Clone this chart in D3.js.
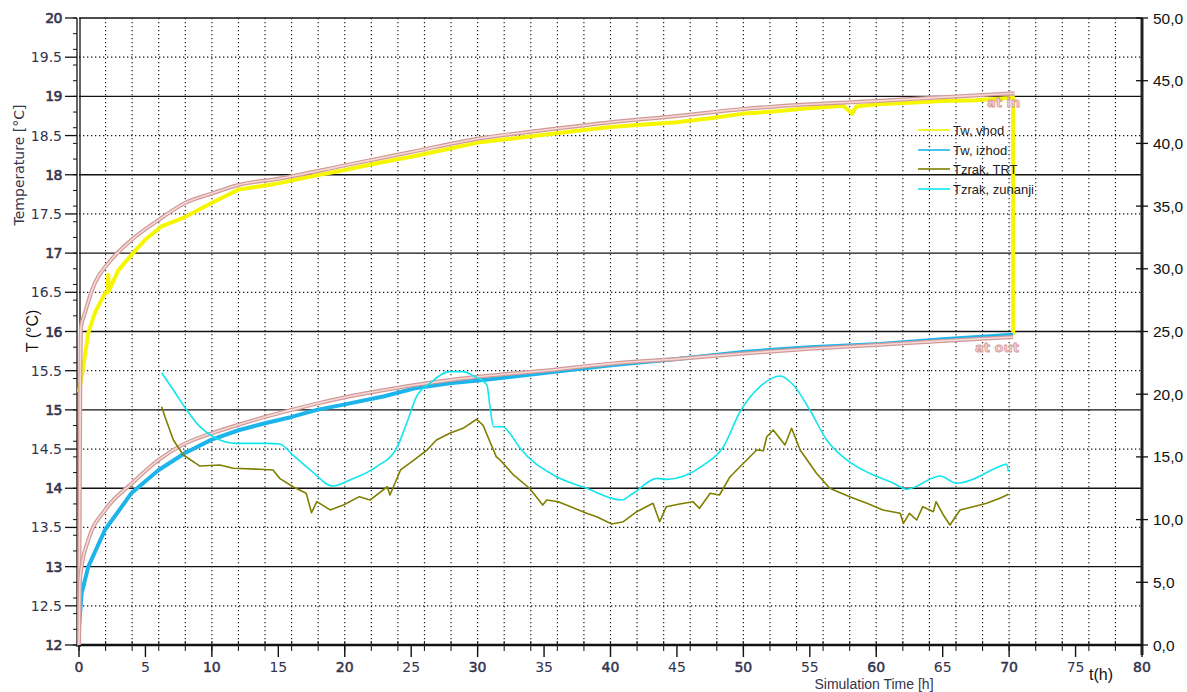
<!DOCTYPE html>
<html>
<head>
<meta charset="utf-8">
<script src="https://cdn.jsdelivr.net/npm/d3@7"></script>
<style>
  html,body{margin:0;padding:0;background:#fff;overflow:hidden;}
  svg{display:block;}
</style>
</head>
<body>
<svg id="chart" width="1187" height="692"></svg>
<script>
// ---------------- DATA ----------------
const xTicksMajor = [0,5,10,15,20,25,30,35,40,45,50,55,60,65,70,75,80];
const leftTickLabels = ["12","12.5","13","13.5","14","14.5","15","15.5","16","16.5","17","17.5","18","18.5","19","19.5","20"];
const rightTickLabels = ["0,0","5,0","10,0","15,0","20,0","25,0","30,0","35,0","40,0","45,0","50,0"];
const legendLabels = ["Tw, vhod","Tw, izhod","Tzrak, TRT","Tzrak, zunanji"];

// Tw, vhod (measured inlet water, left axis) [h, °C]
const twVhod = [[0,15.23],[0.2,15.42],[0.7,15.98],[1.2,16.24],[1.96,16.49],[2.15,16.5],[2.2,16.72],[2.25,16.52],
 [2.96,16.78],[3.96,16.98],[4.97,17.17],[6.2,17.34],[7.98,17.46],[9.98,17.64],[12,17.81],[14.25,17.87],[15,17.89],
 [17.5,17.98],[20,18.06],[22.5,18.15],[25,18.23],[27.5,18.32],[30,18.41],[32.5,18.46],[35,18.51],[37.5,18.56],
 [40,18.61],[42.5,18.64],[45,18.67],[47.5,18.72],[50,18.78],[52.5,18.81],[55,18.85],[57.5,18.88],[58.2,18.78],
 [58.5,18.87],[60,18.9],[62.5,18.92],[65,18.94],[67.5,18.95],[70,18.98],[70.3,18.99],[70.31,15.96]];
// Tw, izhod (measured outlet water, left axis)
const twIzhod = [[0,12.23],[0.2,12.66],[0.7,13.0],[1.96,13.47],[3.96,13.94],[5.97,14.23],[7.98,14.45],[9.98,14.62],
 [12,14.74],[14,14.83],[16,14.91],[17.9,15.0],[20,15.07],[22.9,15.17],[25.4,15.28],[27.9,15.34],[30.4,15.38],
 [32.4,15.42],[35,15.47],[40,15.57],[45,15.65],[50,15.74],[55,15.8],[60.3,15.84],[65,15.9],[70.3,15.96]];
// simulated "at in" (left axis)
const simIn = [[0,12.0],[0.1,15.4],[0.15,16.05],[0.45,16.24],[1.2,16.62],[2.2,16.87],[3.96,17.17],[5.97,17.42],
 [7.98,17.64],[9.98,17.76],[12,17.87],[15,17.95],[20,18.12],[25,18.29],[30,18.46],[35,18.57],[40,18.67],
 [45,18.75],[50,18.84],[55,18.9],[60,18.94],[65,18.99],[70.4,19.04]];
// simulated "at out" (left axis)
const simOut = [[0,12.0],[0.08,12.83],[0.2,13.0],[0.7,13.34],[1.96,13.72],[3.96,14.06],[5.97,14.36],[7.98,14.57],
 [9.98,14.7],[12,14.81],[14,14.91],[16,15.0],[17.9,15.08],[20.9,15.19],[22.9,15.25],[25.4,15.32],[27.9,15.38],
 [32.4,15.46],[35,15.5],[40,15.59],[45,15.65],[50,15.72],[55,15.78],[60.3,15.83],[65,15.88],[70.3,15.93]];
// Tzrak, TRT (right axis)
const tzrakTRT = [[6.22,19.0],[6.47,18.2],[7.1,16.35],[7.85,15.15],[9.1,14.27],[10.6,14.35],[11.6,14.09],[13.6,14.01],
 [14.6,13.96],[15.1,13.29],[16.1,12.62],[17.1,12.1],[17.5,10.55],[17.9,11.43],[18.9,10.77],[19.9,11.16],[21.1,11.83],
 [21.9,11.56],[23.2,12.62],[23.4,11.96],[24.2,13.96],[25.2,14.75],[26.2,15.55],[26.9,16.35],[27.9,16.88],[28.9,17.28],
 [29.93,18.0],[30.4,17.54],[31.4,15.02],[31.7,14.75],[32.7,13.56],[33.9,12.5],[34.9,11.16],[35.2,11.56],[36.07,11.43],
 [37,11.03],[38.2,10.5],[38.96,10.23],[40.1,9.65],[40.97,9.83],[41.97,10.63],[43.2,11.3],[43.7,9.83],[44.2,11.03],
 [45.2,11.24],[46.2,11.43],[46.7,10.9],[47.5,12.1],[48.2,11.96],[49,13.42],[50.25,14.75],[51,15.55],[51.5,15.49],
 [51.76,16.61],[52.25,17.14],[53.13,15.95],[53.63,17.28],[54.27,15.55],[55.5,13.69],[56.5,12.5],[58,11.83],[59.3,11.3],
 [60.5,10.77],[61.8,10.5],[62.04,9.7],[62.5,10.5],[63.04,9.97],[63.5,11.03],[64.3,10.63],[64.5,11.43],[65.05,10.37],
 [65.55,9.57],[66.3,10.77],[67.3,11.03],[68.3,11.3],[69.3,11.7],[69.95,12.02]];
// Tzrak, zunanji (right axis)
const tzrakZun = [[6.22,21.71],[7.1,20.33],[8.1,18.74],[9.1,17.41],[10.1,16.61],[11.87,16.08],[14.1,16.08],[15.1,16.03],
 [16.1,15.15],[17.4,13.96],[19.1,12.68],[20.4,13.16],[22.4,14.22],[23.9,15.69],[24.66,17.68],[25.4,19.8],[26.4,20.87],
 [27.9,21.8],[28.9,21.8],[29.7,21.45],[30.7,20.73],[30.93,19.0],[31.2,17.41],[31.9,17.41],[32.4,16.9],[33.2,15.69],
 [35.7,13.56],[38.2,12.5],[40.84,11.56],[41.7,12.1],[43.5,13.29],[44.2,13.21],[47,14.35],[48.5,15.81],[49.75,18.6],
 [51.25,20.6],[52.76,21.45],[53.76,20.73],[55,18.74],[56.27,16.35],[57.8,14.75],[59.5,13.69],[61.3,12.9],[62.3,12.42],
 [64.8,13.48],[66.05,12.9],[69.56,14.35],[69.8,14.43],[69.95,13.82]];

// ---------------- LAYOUT ----------------
const svg = d3.select("#chart");
const L = 79, R = 1142, T = 18, B = 645;
const x = d3.scaleLinear().domain([0,80]).range([L,R]);
const yL = d3.scaleLinear().domain([12,20]).range([B,T]);
const yR = d3.scaleLinear().domain([0,50]).range([B,T]);
const labelColor = "#34344e";

// grid
const g = svg.append("g");
const vGrid = d3.range(2,80,2);
g.selectAll(".vg").data(vGrid).join("line")
  .attr("x1",d=>x(d)).attr("x2",d=>x(d)).attr("y1",T).attr("y2",B)
  .attr("stroke","#222").attr("stroke-width",1.2).attr("stroke-dasharray","1.3,2.7");
const hVals = d3.range(12.5,20,0.5);
g.selectAll(".hg").data(hVals).join("line")
  .attr("x1",L).attr("x2",R).attr("y1",d=>yL(d)).attr("y2",d=>yL(d))
  .attr("stroke","#111")
  .attr("stroke-width",d=>Number.isInteger(d)?1.3:1.2)
  .attr("stroke-dasharray",d=>Number.isInteger(d)?null:"1.3,2.7");
g.append("line").attr("x1",L).attr("x2",R).attr("y1",T).attr("y2",T).attr("stroke","#111").attr("stroke-width",1.5);

// ---------------- LEFT AXIS ----------------
const la = svg.append("g");
la.append("line").attr("x1",77).attr("x2",77).attr("y1",T).attr("y2",B+2).attr("stroke","#111").attr("stroke-width",1.3);
la.append("line").attr("x1",80).attr("x2",80).attr("y1",T).attr("y2",B+2).attr("stroke","#111").attr("stroke-width",1.3);
la.selectAll(".mt").data(d3.range(12,20.01,0.2)).join("line")
  .attr("x1",73).attr("x2",77).attr("y1",d=>yL(d)).attr("y2",d=>yL(d)).attr("stroke","#111").attr("stroke-width",1);
la.selectAll(".Mt").data(leftTickLabels).join("line")
  .attr("x1",65).attr("x2",77).attr("y1",d=>yL(+d)).attr("y2",d=>yL(+d)).attr("stroke","#111").attr("stroke-width",1.3);
la.selectAll(".lt").data(leftTickLabels).join("text")
  .attr("x",62).attr("y",d=>yL(+d)).attr("dy","0.36em").attr("text-anchor","end")
  .attr("font-family","DejaVu Sans").attr("font-size",14).attr("fill",labelColor)
  .attr("stroke",d=>d.includes(".")?"none":labelColor).attr("stroke-width",0.6)
  .attr("letter-spacing",d=>d.includes(".")?null:"-0.5").text(d=>d);

svg.append("text").attr("transform","translate(24,165) rotate(-90)").attr("text-anchor","middle")
  .attr("font-family","DejaVu Sans").attr("font-size",14).attr("fill",labelColor).text("Temperature [°C]");
svg.append("text").attr("transform","translate(38,331) rotate(-90)").attr("text-anchor","middle")
  .attr("font-family","Liberation Sans").attr("font-size",16).attr("fill","#111").text("T (°C)");

// ---------------- BOTTOM AXIS ----------------
const ba = svg.append("g");
ba.append("line").attr("x1",L).attr("x2",R).attr("y1",B).attr("y2",B).attr("stroke","#111").attr("stroke-width",2.5);
ba.selectAll(".bm").data(d3.range(0,81,2)).join("line")
  .attr("x1",d=>x(d)).attr("x2",d=>x(d)).attr("y1",B-4).attr("y2",B+6).attr("stroke","#222").attr("stroke-width",1.1);
ba.selectAll(".bM").data(xTicksMajor).join("line")
  .attr("x1",d=>x(d)).attr("x2",d=>x(d)).attr("y1",B).attr("y2",B+12).attr("stroke","#111").attr("stroke-width",1.4);
ba.selectAll(".bl").data(xTicksMajor).join("text")
  .attr("x",d=>x(d)).attr("y",672).attr("text-anchor","middle")
  .attr("font-family","DejaVu Sans").attr("font-size",14).attr("fill",labelColor)
  .attr("stroke",d=>d%10===0?labelColor:"none").attr("stroke-width",0.5).text(d=>d);
svg.append("text").attr("x",874).attr("y",689).attr("text-anchor","middle")
  .attr("font-family","Liberation Sans").attr("font-size",14).attr("fill",labelColor).text("Simulation Time [h]");
svg.append("text").attr("x",1089).attr("y",680)
  .attr("font-family","Liberation Sans").attr("font-size",16).attr("fill","#111").text("t(h)");

// ---------------- RIGHT AXIS ----------------
const ra = svg.append("g");
ra.append("line").attr("x1",R).attr("x2",R).attr("y1",T).attr("y2",B+10).attr("stroke","#222").attr("stroke-width",3);
ra.selectAll(".rt").data(rightTickLabels).join("line")
  .attr("x1",R-6).attr("x2",R+6).attr("y1",d=>yR(parseFloat(d.replace(",","."))))
  .attr("y2",d=>yR(parseFloat(d.replace(",",".")))).attr("stroke","#111").attr("stroke-width",1.3);
ra.selectAll(".rl").data(rightTickLabels).join("text")
  .attr("x",1153).attr("y",d=>yR(parseFloat(d.replace(",","."))))
  .attr("dy","0.36em").attr("font-family","Liberation Sans").attr("font-size",15.5).attr("fill","#111").text(d=>d);

// ---------------- SERIES ----------------
const lineL = d3.line().x(d=>x(d[0])).y(d=>yL(d[1]));
const lineLs = d3.line().x(d=>x(d[0])).y(d=>yL(d[1])).curve(d3.curveMonotoneX);
const lineR = d3.line().x(d=>x(d[0])).y(d=>yR(d[1]));
const lineRs = d3.line().x(d=>x(d[0])).y(d=>yR(d[1])).curve(d3.curveMonotoneX);

const s = svg.append("g").attr("fill","none").attr("stroke-linejoin","round");
s.append("path").datum(twVhod).attr("d",lineL).attr("stroke","#f6f600").attr("stroke-width",4);
s.append("path").datum(twIzhod).attr("d",lineL).attr("stroke","#1cb4ea").attr("stroke-width",4);
[simIn, simOut].forEach(dat=>{
  s.append("path").datum(dat).attr("d",lineLs).attr("stroke","#cf9a98").attr("stroke-width",4);
  s.append("path").datum(dat).attr("d",lineLs).attr("stroke","#f6d8d6").attr("stroke-width",1.6);
});
s.append("path").datum(tzrakZun).attr("d",lineRs).attr("stroke","#10e6ee").attr("stroke-width",1.6);
s.append("path").datum(tzrakTRT).attr("d",lineR).attr("stroke","#7f7f00").attr("stroke-width",1.6);

// sim labels
svg.append("text").attr("x",987).attr("y",107).attr("font-family","DejaVu Sans").attr("font-weight","bold")
  .attr("font-size",13).attr("fill","#f7d6d6").attr("stroke","#d49a9a").attr("stroke-width",0.8).text("at in");
svg.append("text").attr("x",975).attr("y",352).attr("font-family","DejaVu Sans").attr("font-weight","bold")
  .attr("font-size",13).attr("fill","#f7d6d6").attr("stroke","#d49a9a").attr("stroke-width",0.8).text("at out");

// ---------------- LEGEND ----------------
const legColors = ["#f6f600","#1cb4ea","#7f7f00","#10e6ee"];
const legY = [130,150,169,189];
const lg = svg.append("g");
lg.selectAll("line").data(legendLabels).join("line")
  .attr("x1",918).attr("x2",950).attr("y1",(d,i)=>legY[i]).attr("y2",(d,i)=>legY[i])
  .attr("stroke",(d,i)=>legColors[i]).attr("stroke-width",1.6);
lg.selectAll("text").data(legendLabels).join("text")
  .attr("x",953).attr("y",(d,i)=>legY[i]+4.5)
  .attr("font-family","Liberation Sans").attr("font-size",13).attr("fill","#222").text(d=>d);
</script>
</body>
</html>
